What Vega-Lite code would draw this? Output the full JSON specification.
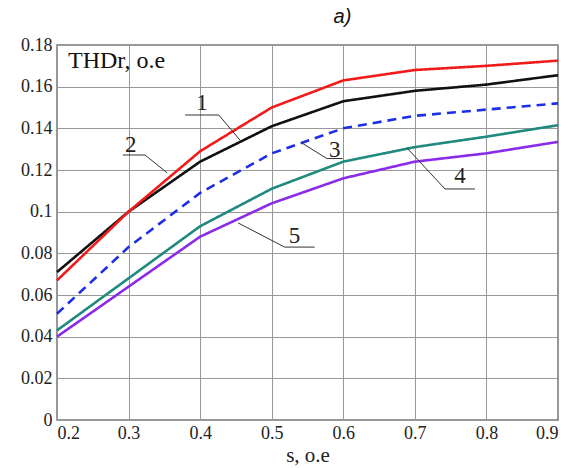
{
  "$schema": "https://vega.github.io/schema/vega-lite/v6.json",
  "width": 501,
  "height": 375,
  "autosize": {"type": "none"},
  "padding": {"left": 57, "top": 45, "right": 28, "bottom": 48},
  "background": "white",
  "title": {"text": "a)", "font": "Liberation Sans", "fontStyle": "italic", "fontWeight": "normal", "fontSize": 20, "color": "#111", "dx": 35, "offset": 9},
  "config": {
    "view": {"stroke": "#777", "strokeWidth": 1.5},
    "axis": {"labelFont": "Liberation Serif", "labelFontSize": 18, "labelColor": "#222", "titleFont": "Liberation Serif", "titleFontSize": 21, "titleFontWeight": "normal", "titleColor": "#222", "gridColor": "#999", "gridOpacity": 1, "gridWidth": 1, "ticks": false, "domain": false}
  },
  "datasets": {
    "curves": [
      {"s": 0.2, "v": 0.071, "c": "1"}, {"s": 0.3, "v": 0.100, "c": "1"}, {"s": 0.4, "v": 0.124, "c": "1"}, {"s": 0.5, "v": 0.141, "c": "1"}, {"s": 0.6, "v": 0.153, "c": "1"}, {"s": 0.7, "v": 0.158, "c": "1"}, {"s": 0.8, "v": 0.161, "c": "1"}, {"s": 0.9, "v": 0.1655, "c": "1"},
      {"s": 0.2, "v": 0.067, "c": "2"}, {"s": 0.3, "v": 0.100, "c": "2"}, {"s": 0.4, "v": 0.129, "c": "2"}, {"s": 0.5, "v": 0.150, "c": "2"}, {"s": 0.6, "v": 0.163, "c": "2"}, {"s": 0.7, "v": 0.168, "c": "2"}, {"s": 0.8, "v": 0.170, "c": "2"}, {"s": 0.9, "v": 0.1725, "c": "2"},
      {"s": 0.2, "v": 0.051, "c": "3"}, {"s": 0.3, "v": 0.083, "c": "3"}, {"s": 0.4, "v": 0.109, "c": "3"}, {"s": 0.5, "v": 0.128, "c": "3"}, {"s": 0.6, "v": 0.140, "c": "3"}, {"s": 0.7, "v": 0.146, "c": "3"}, {"s": 0.8, "v": 0.149, "c": "3"}, {"s": 0.9, "v": 0.152, "c": "3"},
      {"s": 0.2, "v": 0.043, "c": "4"}, {"s": 0.3, "v": 0.068, "c": "4"}, {"s": 0.4, "v": 0.093, "c": "4"}, {"s": 0.5, "v": 0.111, "c": "4"}, {"s": 0.6, "v": 0.124, "c": "4"}, {"s": 0.7, "v": 0.131, "c": "4"}, {"s": 0.8, "v": 0.136, "c": "4"}, {"s": 0.9, "v": 0.1415, "c": "4"},
      {"s": 0.2, "v": 0.040, "c": "5"}, {"s": 0.3, "v": 0.064, "c": "5"}, {"s": 0.4, "v": 0.088, "c": "5"}, {"s": 0.5, "v": 0.104, "c": "5"}, {"s": 0.6, "v": 0.116, "c": "5"}, {"s": 0.7, "v": 0.124, "c": "5"}, {"s": 0.8, "v": 0.128, "c": "5"}, {"s": 0.9, "v": 0.1335, "c": "5"}
    ],
    "leaders": [
      {"id": "1", "o": 1, "s": 0.379, "v": 0.1464}, {"id": "1", "o": 2, "s": 0.426, "v": 0.1464}, {"id": "1", "o": 3, "s": 0.4556, "v": 0.1344},
      {"id": "2", "o": 1, "s": 0.292, "v": 0.1272}, {"id": "2", "o": 2, "s": 0.323, "v": 0.1272}, {"id": "2", "o": 3, "s": 0.354, "v": 0.1186},
      {"id": "3", "o": 1, "s": 0.542, "v": 0.133}, {"id": "3", "o": 2, "s": 0.577, "v": 0.1255}, {"id": "3", "o": 3, "s": 0.599, "v": 0.1255},
      {"id": "4", "o": 1, "s": 0.689, "v": 0.1306}, {"id": "4", "o": 2, "s": 0.742, "v": 0.1109}, {"id": "4", "o": 3, "s": 0.784, "v": 0.1109},
      {"id": "5", "o": 1, "s": 0.453, "v": 0.0946}, {"id": "5", "o": 2, "s": 0.518, "v": 0.083}, {"id": "5", "o": 3, "s": 0.560, "v": 0.083}
    ],
    "labels": [
      {"t": "1", "s": 0.4025, "v": 0.1488},
      {"t": "2", "s": 0.303, "v": 0.1287},
      {"t": "3", "s": 0.588, "v": 0.1263},
      {"t": "4", "s": 0.763, "v": 0.1138},
      {"t": "5", "s": 0.532, "v": 0.085}
    ],
    "heading": [{"t": "THDr, o.e", "s": 0.2154, "v": 0.169}]
  },
  "layer": [
    {
      "data": {"name": "curves"},
      "mark": {"type": "line", "strokeWidth": 2.6},
      "encoding": {
        "x": {"field": "s", "type": "quantitative", "scale": {"domain": [0.2, 0.9], "nice": false, "zero": false}, "axis": {"values": [0.2, 0.3, 0.4, 0.5, 0.6, 0.7, 0.8, 0.9], "format": "~g", "title": "s, o.e", "labelPadding": 4, "titlePadding": 2}},
        "y": {"field": "v", "type": "quantitative", "scale": {"domain": [0, 0.18], "nice": false}, "axis": {"values": [0, 0.02, 0.04, 0.06, 0.08, 0.1, 0.12, 0.14, 0.16, 0.18], "format": "~g", "title": null, "labelPadding": 5}},
        "color": {"field": "c", "type": "nominal", "scale": {"domain": ["1", "2", "3", "4", "5"], "range": ["#111111", "#f21b1b", "#1c2ee8", "#1f8a7d", "#8a2be8"]}, "legend": null},
        "strokeDash": {"field": "c", "type": "nominal", "scale": {"domain": ["1", "2", "3", "4", "5"], "range": [[1, 0], [1, 0], [9, 6], [1, 0], [1, 0]]}, "legend": null}
      }
    },
    {
      "data": {"name": "leaders"},
      "mark": {"type": "line", "color": "#333", "strokeWidth": 1},
      "encoding": {
        "x": {"field": "s", "type": "quantitative"},
        "y": {"field": "v", "type": "quantitative"},
        "detail": {"field": "id"},
        "order": {"field": "o"}
      }
    },
    {
      "data": {"name": "labels"},
      "mark": {"type": "text", "font": "Liberation Serif", "fontSize": 23, "color": "#222", "align": "center", "baseline": "alphabetic"},
      "encoding": {
        "x": {"field": "s", "type": "quantitative"},
        "y": {"field": "v", "type": "quantitative"},
        "text": {"field": "t"}
      }
    },
    {
      "data": {"name": "heading"},
      "mark": {"type": "text", "font": "Liberation Serif", "fontSize": 24, "color": "#111", "align": "left", "baseline": "alphabetic"},
      "encoding": {
        "x": {"field": "s", "type": "quantitative"},
        "y": {"field": "v", "type": "quantitative"},
        "text": {"field": "t"}
      }
    }
  ]
}
